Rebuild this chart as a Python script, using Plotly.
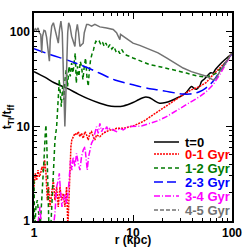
import plotly.graph_objects as go

# ---------------- data ----------------
r_t0 = [1.00, 1.3, 1.6, 2.14, 2.8, 3.5, 4.63, 5.5, 6.56, 8.0, 10.0, 11.5, 13.1, 14.5, 16.0,
        18.6, 21.8, 23.5, 27.5, 32.1, 34.7, 39.0, 41.0, 43.8, 47.4, 49.2, 53.0, 57.3, 61.0,
        64.4, 68.0, 75.0, 85.0, 100.0]
v_t0 = [38, 33, 29, 25.4, 22, 19.7, 17.6, 16.7, 16.3, 16.5, 17.9, 19.3, 20.4, 20.2, 19.1,
        17.6, 18.0, 18.5, 19.9, 21.6, 23.0, 26.5, 25.5, 24.8, 27.0, 29.9, 32.0, 35.0, 37.0,
        36.7, 40.0, 45.0, 51.0, 59.0]

r_01 = [1.00, 1.031, 1.064, 1.097, 1.132, 1.167, 1.204, 1.242, 1.281, 1.321, 1.363, 1.405,
        1.450, 1.509, 1.567, 1.628, 1.693, 1.759, 1.828, 1.900, 1.975, 2.054, 2.134, 2.20,
        2.254, 2.31, 2.36, 2.41, 2.49, 2.59, 2.69, 2.80, 2.91, 3.02, 3.14, 3.27, 3.40, 3.53,
        3.67, 3.81, 3.96, 4.12, 4.28, 4.63, 5.00, 5.41, 5.84, 6.31, 6.82, 7.96, 10.0, 12.7,
        16.0, 20.1, 25.4, 32.1, 38.9, 47.2, 55.1, 64.3, 75.1, 87.7, 100.0]
v_01 = [2.30, 3.2, 2.7, 3.45, 2.93, 3.2, 3.75, 3.31, 4.41, 3.2, 1.66, 2.30, 1.41, 1.95, 2.7,
        1.66, 2.30, 1.41, 2.30, 1.66, 1.95, 1.41, 2.30, 0.86, 1.66, 3.75, 6.11, 7.19, 7.80,
        8.46, 8.12, 8.81, 7.80, 8.46, 7.49, 8.81, 8.12, 7.19, 8.46, 8.81, 7.80, 7.19, 8.12,
        7.80, 8.46, 8.81, 9.18, 9.18, 9.56, 9.56, 10.1, 11.3, 13.2, 15.6, 18.4, 21.6, 24.4,
        26.5, 29.2, 35.2, 41.5, 48.8, 59.8]

r_12 = [1.00, 1.016, 1.047, 1.08, 1.115, 1.15, 1.186, 1.223, 1.261, 1.30, 1.32, 1.352, 1.384,
        1.417, 1.473, 1.519, 1.567, 1.628, 1.693, 1.746, 1.801, 1.843, 1.886, 1.946, 2.007,
        2.054, 2.118, 2.185, 2.254, 2.325, 2.399, 2.474, 2.551, 2.611, 2.673, 2.756, 2.843,
        2.933, 3.025, 3.12, 3.219, 3.319, 3.423, 3.531, 3.614, 3.728, 3.875, 3.997, 4.091,
        4.219, 4.385, 4.559, 4.74, 4.925, 5.12, 5.32, 5.575, 5.84, 6.117, 6.41, 6.71, 7.03,
        7.37, 7.72, 8.08, 8.60, 9.29, 10.0, 12.18, 14.78, 17.94, 21.77, 27.47, 34.63, 43.69,
        53.02, 61.89, 69.5, 78.05, 87.7, 100.0]
v_12 = [2.70, 0.8, 1.41, 1.66, 1.20, 0.8, 1.41, 2.30, 4.41, 8.46, 10.4, 5.63, 1.66, 0.8, 0.8,
        1.66, 3.75, 7.19, 9.96, 19.1, 31.2, 22.5, 16.2, 26.5, 19.1, 31.2, 39.8, 26.5, 43.2,
        33.8, 46.9, 36.7, 55.2, 59.8, 28.7, 43.2, 33.8, 48.8, 43.2, 31.2, 43.2, 53.0, 33.8,
        26.5, 38.2, 50.8, 59.8, 64.9, 73.4, 79.6, 76.4, 79.6, 73.4, 77.7, 70.4, 76.4, 67.6,
        73.4, 66.0, 70.4, 62.3, 64.9, 58.9, 64.9, 59.8, 56.6, 55.2, 53.0, 48.8, 45.0, 43.2,
        41.5, 39.0, 36.7, 34.4, 33.3, 34.4, 36.7, 41.5, 48.8, 59.8]

r_23 = [1.0, 1.5, 2.14, 3.14, 4.63, 6.56, 10.0, 14.8, 17.2, 21.8, 27.5, 32.1, 37.5, 43.8,
        47.4, 53.0, 59.6, 64.4, 70.0, 75.0, 85.0, 100.0]
v_23 = [66.5, 57, 50.6, 43.6, 36.5, 31.0, 27.6, 25.0, 24.5, 23.5, 22.5, 22.0, 22.0, 22.7,
        23.4, 25.0, 27.6, 30.0, 34.0, 38.0, 46.0, 59.0]

r_34 = [1.0, 1.08, 1.115, 1.15, 1.186, 1.567, 1.628, 1.693, 1.759, 1.801, 1.858, 1.916,
        1.975, 2.054, 2.134, 2.222, 2.289, 2.343, 2.41, 2.49, 2.59, 2.69, 2.80, 2.91, 3.02,
        3.14, 3.27, 3.345, 3.45, 3.559, 3.67, 3.81, 3.96, 4.12, 4.28, 4.454, 4.63, 4.814,
        5.00, 5.2, 5.41, 5.62, 5.84, 6.31, 6.82, 7.37, 7.96, 8.94, 10.0, 12.18, 14.8, 17.94,
        21.77, 26.4, 32.1, 38.9, 47.2, 55.1, 64.3, 75.1, 87.7, 100.0]
v_34 = [0.8, 0.8, 1.10, 1.41, 0.86, 0.86, 1.20, 2.30, 2.70, 3.2, 1.95, 1.41, 1.66, 1.95,
        1.53, 2.12, 3.2, 4.41, 3.45, 4.78, 3.75, 5.19, 4.06, 3.45, 4.78, 5.63, 6.11, 4.41,
        3.45, 4.78, 5.63, 6.63, 7.19, 8.46, 9.96, 8.46, 10.8, 8.81, 9.56, 8.81, 9.96, 9.18,
        9.56, 9.18, 8.81, 9.56, 9.18, 9.96, 9.96, 10.1, 10.8, 11.5, 12.7, 14.4, 16.2, 18.4,
        20.7, 23.4, 27.6, 35.2, 46.9, 59.8]

r_45 = [1.00, 1.03, 1.06, 1.10, 1.13, 1.17, 1.195, 1.22, 1.26, 1.30, 1.34, 1.38, 1.43, 1.46,
        1.51, 1.57, 1.63, 1.69, 1.76, 1.81, 1.87, 1.93, 1.98, 2.02, 2.05, 2.09, 2.14, 2.19,
        2.24, 2.31, 2.40, 2.49, 2.59, 2.65, 2.74, 2.82, 2.91, 3.02, 3.14, 3.22, 3.29, 3.40,
        3.53, 3.82, 4.12, 4.63, 5.41, 6.31, 6.82, 7.09, 7.37, 7.48, 7.96, 8.94, 10.0, 11.7,
        14.8, 17.9, 21.8, 26.4, 32.1, 38.9, 47.2, 55.1, 64.3, 69.5, 75.1, 84.4, 100.0]
v_45 = [102, 108, 104, 110, 98, 94, 60, 90, 104, 102, 88, 70, 49, 83, 115, 125, 106, 90, 76,
        106, 130, 98, 43, 19, 10, 19, 51, 98, 125, 115, 90, 80, 70, 98, 120, 98, 70, 73, 76,
        98, 110, 120, 120, 115, 120, 113, 110, 106, 98, 90, 83, 94, 90, 83, 76, 72, 65, 60,
        53, 47, 41.5, 38, 36, 34, 31, 32.5, 38, 45, 60]

labels = ["t=0", "0-1 Gyr", "1-2 Gyr", "2-3 Gyr", "3-4 Gyr", "4-5 Gyr"]
x_ticks = [1, 10, 100]
y_ticks = [1, 10, 100]

# ---------------- styling ----------------
series = [
    (r_t0, v_t0, "#000000", "solid", "solid", "spline"),
    (r_01, v_01, "#ff0000", "2px,1px", "2px,1px", "linear"),
    (r_12, v_12, "#007a00", "4px,3px", "4px,3px", "linear"),
    (r_23, v_23, "#0000ff", "12px,5px", "9px,4px", "spline"),
    (r_34, v_34, "#ff00ff", "6px,2px,1px,2px", "6px,2px,1px,2px", "linear"),
    (r_45, v_45, "#727272", "solid", "4px,2px", "linear"),
]

fig = go.Figure()
for (xs, ys, col, dash, _, shape), lab in zip(series, labels):
    fig.add_trace(go.Scatter(x=xs, y=ys, mode="lines", name=lab, showlegend=False,
                             hoverinfo="skip",
                             line=dict(color=col, width=1.5, dash=dash, shape=shape)))

FONT = "Liberation Sans"
L, T, B, R = 34, 13, 221, 232
def px(x):
    return (x - L) / (R - L)
def py(y):
    return (B - y) / (B - T)

rows = [142, 154, 168, 182, 196, 210]
shapes = []
annotations = []
for (xs, ys, col, _, ldash, _s), lab, yy in zip(series, labels, rows):
    shapes.append(dict(type="line", xref="paper", yref="paper",
                       x0=px(154), x1=px(179), y0=py(yy), y1=py(yy),
                       line=dict(color=col, width=1.5, dash=ldash)))
    annotations.append(dict(xref="paper", yref="paper", x=px(183), y=py(yy),
                            xanchor="left", yanchor="middle", showarrow=False,
                            text="<b>" + lab + "</b>",
                            font=dict(family=FONT, size=13, color=col)))

minor_vals = [v * 10 ** k for k in range(0, 3) for v in range(2, 10)]

fig.update_layout(
    width=247, height=247,
    margin=dict(l=L, r=247 - R, t=T, b=247 - B),
    paper_bgcolor="white", plot_bgcolor="white",
    font=dict(family=FONT, size=12, color="black"),
    shapes=shapes, annotations=annotations,
    showlegend=False,
)
common = dict(type="log", ticks="inside", ticklen=6, tickwidth=1.2, tickcolor="black",
              minor=dict(tickvals=minor_vals, ticks="inside", ticklen=3, tickcolor="black",
                         tickwidth=1),
              showline=True, linecolor="black", linewidth=1.5, mirror="allticks",
              showgrid=False, zeroline=False, automargin=False,
              tickfont=dict(family=FONT, size=12))
fig.update_xaxes(range=[0, 2], tickvals=x_ticks,
                 ticktext=["<b>%d</b>" % v for v in x_ticks],
                 title=dict(text="<b>r (kpc)</b>", font=dict(family=FONT, size=12), standoff=3),
                 **common)
fig.update_yaxes(range=[0, 2.2], tickvals=y_ticks,
                 ticktext=["<b>%d</b>" % v for v in y_ticks],
                 title=dict(text="<b>t<sub>TI</sub>/t<sub>ff</sub></b>",
                            font=dict(family=FONT, size=12), standoff=0),
                 **common)

fig.write_html("out.html", config={"displayModeBar": False},
               post_script="document.body.style.margin='0';document.body.style.padding='0';")
